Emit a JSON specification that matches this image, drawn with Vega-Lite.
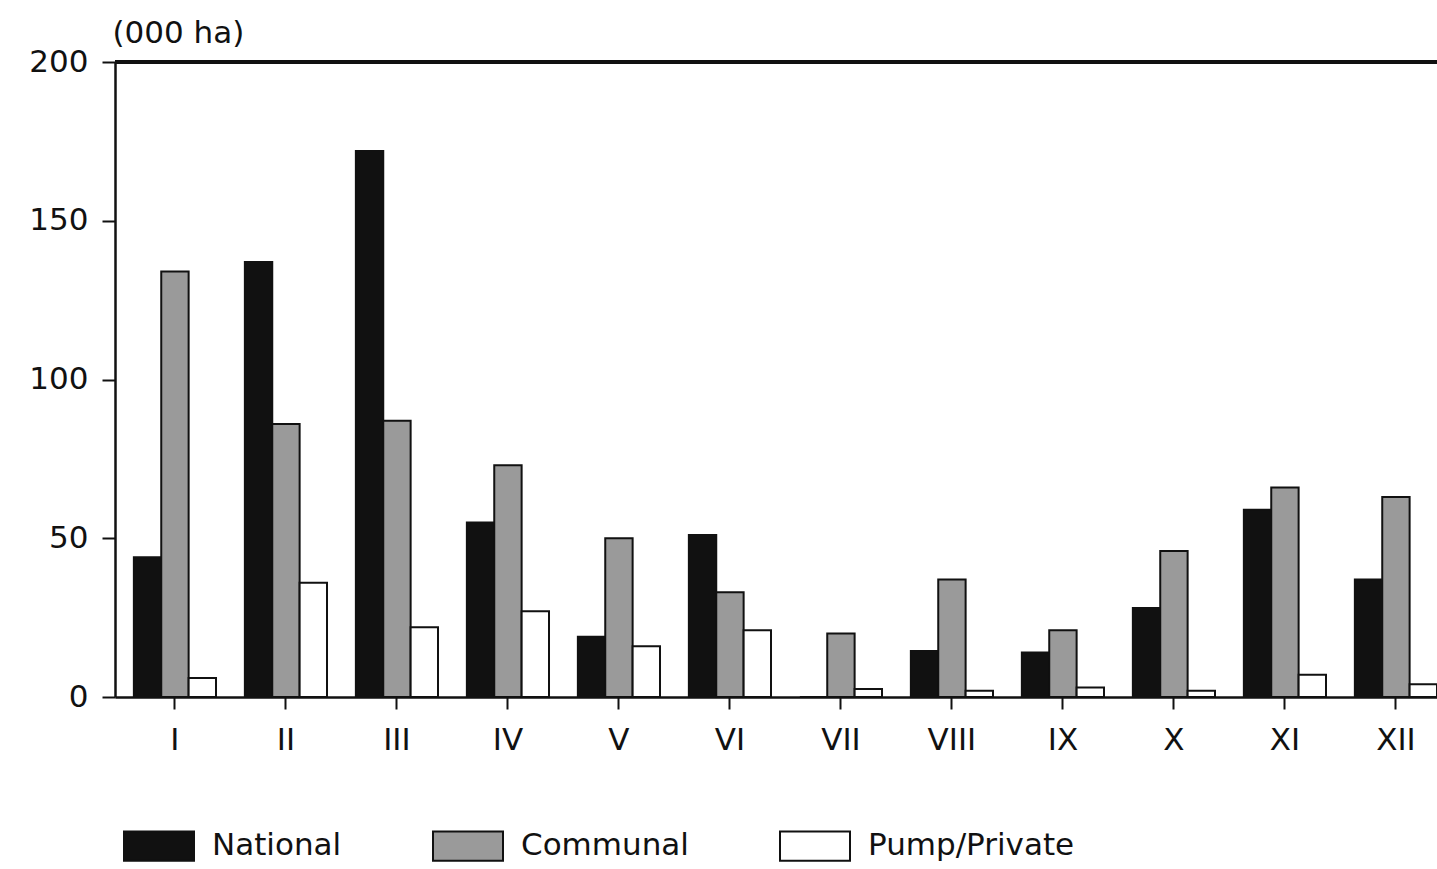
{
  "$schema": "https://vega.github.io/schema/vega-lite/v6.json",
  "autosize": {"type": "none"},
  "padding": {"left": 115, "top": 62, "right": 0, "bottom": 172},
  "width": 1322,
  "height": 635,
  "background": "white",
  "config": {
    "font": "DejaVu Sans",
    "view": {"stroke": null}
  },
  "data": {
    "values": [
      {"region": "I", "type": "National", "value": 44},
      {"region": "I", "type": "Communal", "value": 134},
      {"region": "I", "type": "Pump/Private", "value": 6},
      {"region": "II", "type": "National", "value": 137},
      {"region": "II", "type": "Communal", "value": 86},
      {"region": "II", "type": "Pump/Private", "value": 36},
      {"region": "III", "type": "National", "value": 172},
      {"region": "III", "type": "Communal", "value": 87},
      {"region": "III", "type": "Pump/Private", "value": 22},
      {"region": "IV", "type": "National", "value": 55},
      {"region": "IV", "type": "Communal", "value": 73},
      {"region": "IV", "type": "Pump/Private", "value": 27},
      {"region": "V", "type": "National", "value": 19},
      {"region": "V", "type": "Communal", "value": 50},
      {"region": "V", "type": "Pump/Private", "value": 16},
      {"region": "VI", "type": "National", "value": 51},
      {"region": "VI", "type": "Communal", "value": 33},
      {"region": "VI", "type": "Pump/Private", "value": 21},
      {"region": "VII", "type": "National", "value": 0},
      {"region": "VII", "type": "Communal", "value": 20},
      {"region": "VII", "type": "Pump/Private", "value": 2.5},
      {"region": "VIII", "type": "National", "value": 14.5},
      {"region": "VIII", "type": "Communal", "value": 37},
      {"region": "VIII", "type": "Pump/Private", "value": 2},
      {"region": "IX", "type": "National", "value": 14},
      {"region": "IX", "type": "Communal", "value": 21},
      {"region": "IX", "type": "Pump/Private", "value": 3},
      {"region": "X", "type": "National", "value": 28},
      {"region": "X", "type": "Communal", "value": 46},
      {"region": "X", "type": "Pump/Private", "value": 2},
      {"region": "XI", "type": "National", "value": 59},
      {"region": "XI", "type": "Communal", "value": 66},
      {"region": "XI", "type": "Pump/Private", "value": 7},
      {"region": "XII", "type": "National", "value": 37},
      {"region": "XII", "type": "Communal", "value": 63},
      {"region": "XII", "type": "Pump/Private", "value": 4}
    ]
  },
  "layer": [
    {
      "mark": {"type": "bar", "stroke": "#111", "strokeWidth": 2},
      "encoding": {
        "x": {
          "field": "region",
          "type": "nominal",
          "sort": ["I", "II", "III", "IV", "V", "VI", "VII", "VIII", "IX", "X", "XI", "XII"],
          "scale": {"paddingInner": 0.26, "paddingOuter": 0.085, "align": 1},
          "axis": {
            "title": null,
            "labelAngle": 0,
            "labelFontSize": 31,
            "labelColor": "#111",
            "labelPadding": 16,
            "tickSize": 12,
            "tickWidth": 2,
            "tickColor": "#111",
            "domainColor": "#111",
            "domainWidth": 2.5
          }
        },
        "xOffset": {
          "field": "type",
          "type": "nominal",
          "sort": ["National", "Communal", "Pump/Private"],
          "scale": {"paddingInner": 0, "paddingOuter": 0}
        },
        "y": {
          "field": "value",
          "type": "quantitative",
          "scale": {"domain": [0, 200], "nice": false},
          "axis": {
            "values": [0, 50, 100, 150, 200],
            "grid": false,
            "title": "(000 ha)",
            "titleAngle": 0,
            "titleAlign": "left",
            "titleBaseline": "alphabetic",
            "titleX": -3,
            "titleY": -20,
            "titleFontSize": 31,
            "titleFontWeight": "normal",
            "titleColor": "#111",
            "labelFontSize": 31,
            "labelColor": "#111",
            "labelPadding": 14,
            "tickSize": 13,
            "tickWidth": 2,
            "tickColor": "#111",
            "domainColor": "#111",
            "domainWidth": 2.5
          }
        },
        "fill": {
          "field": "type",
          "type": "nominal",
          "sort": ["National", "Communal", "Pump/Private"],
          "scale": {
            "domain": ["National", "Communal", "Pump/Private"],
            "range": ["#111111", "#9a9a9a", "#ffffff"]
          },
          "legend": {
            "title": null,
            "orient": "none",
            "direction": "horizontal",
            "columns": 3,
            "legendX": 8,
            "legendY": 748,
            "padding": 0,
            "symbolType": "M-1,-0.42H1V0.42H-1Z",
            "symbolSize": 4900,
            "symbolStrokeColor": "#111",
            "symbolStrokeWidth": 2,
            "symbolOpacity": 1,
            "labelFontSize": 31,
            "labelColor": "#111",
            "labelOffset": 17,
            "columnPadding": 87,
            "labelLimit": 400
          }
        }
      }
    },
    {
      "mark": {"type": "rule", "color": "#111", "strokeWidth": 2.5},
      "encoding": {"y": {"datum": 200}}
    }
  ]
}
